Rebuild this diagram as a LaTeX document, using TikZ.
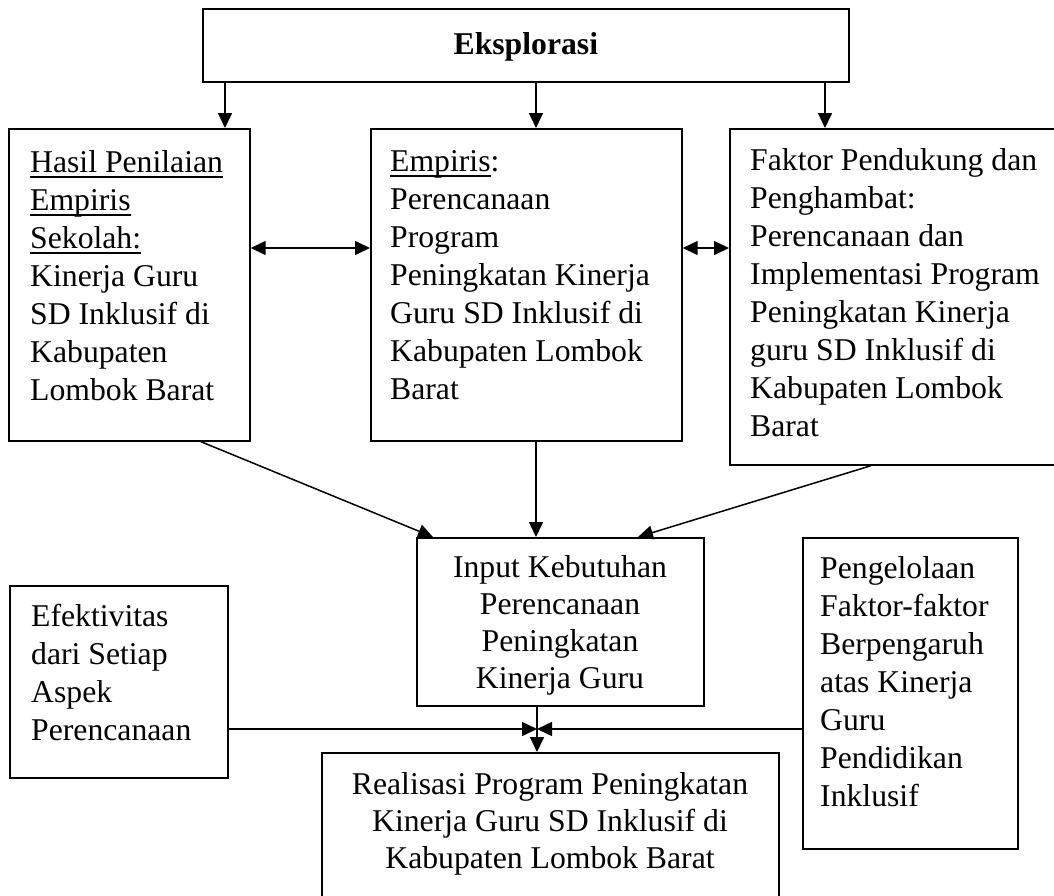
\documentclass[tikz,border=0pt]{standalone}
\usepackage{fontspec}
\setmainfont{Liberation Serif}
\usetikzlibrary{arrows.meta}
\newcommand\myul[1]{\setbox0=\hbox{#1}\rlap{\rule[-5.5pt]{\wd0}{1.4pt}}\box0}
\begin{document}
\begin{tikzpicture}[x=1pt,y=-1pt,
  box/.style={draw, line width=1.7pt, inner sep=0pt, anchor=north west},
  txt/.style={inner sep=0pt, anchor=north west, align=left, font=\fontsize{31.7}{38}\selectfont},
  ctxt/.style={inner sep=0pt, anchor=north, align=center, font=\fontsize{31.7}{37}\selectfont},
  arr/.style={line width=1.5pt, -{Triangle[length=15pt,width=14pt]}},
  darr/.style={line width=1.5pt, {Triangle[length=15pt,width=14pt]}-{Triangle[length=15pt,width=14pt]}}
]
\clip (0,0) rectangle (1054,895);
\fill[white] (0,0) rectangle (1054,895);

% boxes
\node[box, minimum width=646pt, minimum height=73pt] (eks) at (202,8) {};
\node[box, minimum width=241pt, minimum height=312pt] (hasil) at (8,128) {};
\node[box, minimum width=311pt, minimum height=312pt] (emp) at (370,128) {};
\node[box, minimum width=345pt, minimum height=336pt] (fak) at (729,128) {};
\node[box, minimum width=287pt, minimum height=168pt] (inp) at (416,537) {};
\node[box, minimum width=218pt, minimum height=192pt] (efk) at (9,585) {};
\node[box, minimum width=215pt, minimum height=311pt] (pen) at (802,537) {};
\node[box, minimum width=457pt, minimum height=200pt] (rea) at (321,752) {};

% texts
\node[font=\fontsize{31.7}{38}\selectfont\bfseries, inner sep=0pt] (teks) at ([yshift=-2pt]eks.center) {Eksplorasi};
\node[txt] (thasil) at (30,150) {\myul{Hasil Penilaian}\\\myul{Empiris}\\\myul{Sekolah:}\\Kinerja Guru\\SD Inklusif di\\Kabupaten\\Lombok Barat};
\node[txt] (temp) at (390,150) {\myul{Empiris}:\\Perencanaan\\Program\\Peningkatan Kinerja\\Guru SD Inklusif di\\Kabupaten Lombok\\Barat};
\node[txt] (tfak) at (750,148) {Faktor Pendukung dan\\Penghambat:\\Perencanaan dan\\Implementasi Program\\Peningkatan Kinerja\\guru SD Inklusif di\\Kabupaten Lombok\\Barat};
\node[ctxt] (tinp) at (560,555) {Input Kebutuhan\\Perencanaan\\Peningkatan\\Kinerja Guru};
\node[txt] (tefk) at (31,604) {Efektivitas\\dari Setiap\\Aspek\\Perencanaan};
\node[txt] (tpen) at (820,556) {Pengelolaan\\Faktor-faktor\\Berpengaruh\\atas Kinerja\\Guru\\Pendidikan\\Inklusif};
\node[ctxt] (trea) at (550,772) {Realisasi Program Peningkatan\\Kinerja Guru SD Inklusif di\\Kabupaten Lombok Barat};

% helper coordinates
\coordinate (xa) at (225,0);
\coordinate (xb) at (536,0);
\coordinate (xc) at (825,0);
\coordinate (yd) at (0,248);
\coordinate (xl) at (201,0);
\coordinate (xl2) at (433,0);
\coordinate (xr) at (871,0);
\coordinate (xr2) at (638,0);
\coordinate (m) at (537,729);

% connectors
\draw[arr] (eks.south -| xa) -- (hasil.north -| xa);
\draw[arr] (eks.south -| xb) -- (emp.north -| xb);
\draw[arr] (eks.south -| xc) -- (fak.north -| xc);
\draw[darr] (hasil.east |- yd) -- (emp.west |- yd);
\draw[darr] (emp.east |- yd) -- (fak.west |- yd);
\draw[arr] (hasil.south -| xl) -- (inp.north -| xl2);
\draw[arr] (emp.south -| xb) -- (inp.north -| xb);
\draw[arr] (fak.south -| xr) -- (inp.north -| xr2);
\draw[line width=1.5pt] (inp.south -| m) -- (m);
\draw[arr] (m) -- (rea.north -| m);
\draw[arr] (efk.east |- m) -- (m);
\draw[arr] (pen.west |- m) -- (m);
\end{tikzpicture}
\end{document}
